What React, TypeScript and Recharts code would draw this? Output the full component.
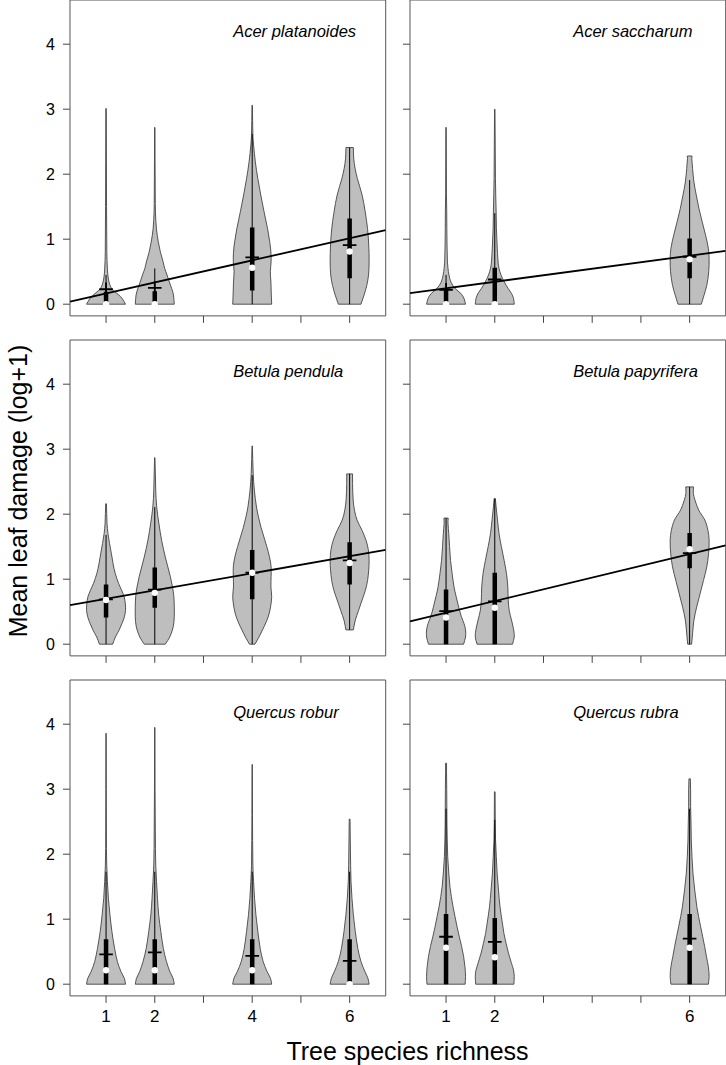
import { ComposedChart, Scatter, XAxis, YAxis, ReferenceArea } from 'recharts'

const FONT = '"Liberation Sans", Arial, sans-serif'

// richness levels present in each species' panel
const richness4 = [1, 2, 4, 6]
const richness3 = [1, 2, 6]
const yTicks = [0, 1, 2, 3, 4]

// violin outlines: [leaf damage, relative width]
const acerPlat1 = [[0, 1], [0.09, 0.82], [0.14, 0.66], [0.19, 0.46], [0.26, 0.25], [0.39, 0.12], [0.54, 0.07], [0.8, 0.04], [1.5, 0.025], [2.2, 0.018], [3.01, 0.012]]
const acerPlat2 = [[0, 1], [0.14, 0.96], [0.24, 0.87], [0.34, 0.75], [0.45, 0.63], [0.55, 0.51], [0.65, 0.43], [0.8, 0.29], [0.96, 0.18], [1.16, 0.085], [1.42, 0.035], [1.68, 0.025], [2.2, 0.015], [2.72, 0.01]]
const acerPlat4 = [[0, 1], [0.14, 0.98], [0.34, 0.96], [0.5, 0.93], [0.65, 0.97], [0.8, 0.96], [0.96, 0.9], [1.16, 0.79], [1.42, 0.61], [1.68, 0.44], [1.93, 0.29], [2.19, 0.16], [2.45, 0.07], [2.6, 0.035], [3.06, 0.012]]
const acerPlat6 = [[0, 0.58], [0.14, 0.74], [0.29, 0.88], [0.45, 0.97], [0.65, 1], [0.91, 0.98], [1.16, 0.92], [1.42, 0.8], [1.68, 0.64], [1.93, 0.4], [2.09, 0.28], [2.24, 0.21], [2.41, 0.19]]

const acerSac1 = [[0, 1], [0.09, 0.92], [0.165, 0.76], [0.24, 0.47], [0.34, 0.25], [0.45, 0.15], [0.55, 0.1], [0.65, 0.07], [0.91, 0.05], [1.16, 0.04], [1.42, 0.035], [1.68, 0.02], [2.72, 0.01]]
const acerSac2 = [[0, 1], [0.09, 0.96], [0.165, 0.86], [0.24, 0.69], [0.34, 0.49], [0.45, 0.32], [0.55, 0.22], [0.65, 0.17], [0.91, 0.12], [1.16, 0.085], [1.42, 0.07], [1.68, 0.05], [1.93, 0.035], [3.0, 0.01]]
const acerSac6 = [[0, 0.6], [0.14, 0.74], [0.29, 0.88], [0.5, 0.98], [0.7, 1], [0.86, 0.96], [1.06, 0.82], [1.26, 0.65], [1.47, 0.48], [1.68, 0.34], [1.88, 0.22], [2.09, 0.15], [2.24, 0.11], [2.28, 0.12]]

const betPen1 = [[0, 0.34], [0.11, 0.48], [0.21, 0.66], [0.32, 0.82], [0.42, 0.94], [0.52, 1], [0.62, 0.99], [0.73, 0.93], [0.83, 0.8], [0.93, 0.65], [1.09, 0.47], [1.24, 0.36], [1.4, 0.27], [1.55, 0.18], [1.7, 0.1], [1.86, 0.05], [2.16, 0.02]]
const betPen2 = [[0, 0.54], [0.11, 0.77], [0.27, 0.95], [0.42, 1], [0.57, 1], [0.73, 0.98], [0.88, 0.91], [1.04, 0.8], [1.19, 0.67], [1.34, 0.54], [1.6, 0.35], [1.86, 0.21], [2.11, 0.1], [2.37, 0.05], [2.87, 0.01]]
const betPen4 = [[0, 0.14], [0.11, 0.35], [0.27, 0.61], [0.42, 0.82], [0.57, 0.94], [0.73, 1], [0.88, 0.96], [1.04, 0.97], [1.19, 0.97], [1.34, 0.89], [1.5, 0.75], [1.65, 0.6], [1.8, 0.45], [1.96, 0.32], [2.11, 0.22], [2.37, 0.11], [2.63, 0.05], [3.05, 0.01]]
const betPen6 = [[0.22, 0.19], [0.37, 0.29], [0.52, 0.46], [0.68, 0.64], [0.83, 0.81], [0.98, 0.92], [1.14, 0.98], [1.29, 1], [1.45, 0.96], [1.6, 0.84], [1.75, 0.64], [1.91, 0.38], [2.06, 0.25], [2.22, 0.18], [2.47, 0.15], [2.62, 0.15]]

const betPap1 = [[0, 0.9], [0.11, 1], [0.22, 1], [0.32, 0.92], [0.42, 0.79], [0.57, 0.65], [0.73, 0.52], [0.88, 0.41], [1.09, 0.31], [1.29, 0.23], [1.5, 0.18], [1.7, 0.14], [1.86, 0.1], [1.94, 0.11]]
const betPap2 = [[0, 0.91], [0.11, 1], [0.22, 0.97], [0.37, 0.86], [0.52, 0.74], [0.68, 0.69], [0.88, 0.67], [1.09, 0.6], [1.29, 0.48], [1.5, 0.34], [1.7, 0.22], [1.91, 0.14], [2.11, 0.07], [2.24, 0.03]]
const betPap6 = [[0, 0.1], [0.16, 0.15], [0.37, 0.22], [0.57, 0.36], [0.78, 0.54], [0.98, 0.71], [1.19, 0.88], [1.39, 0.97], [1.6, 1], [1.75, 0.94], [1.91, 0.78], [2.06, 0.47], [2.22, 0.27], [2.32, 0.19], [2.42, 0.2]]

const querRob1 = [[0, 1], [0.09, 0.94], [0.19, 0.77], [0.35, 0.58], [0.55, 0.44], [0.81, 0.3], [1.07, 0.2], [1.32, 0.12], [1.58, 0.07], [1.83, 0.035], [2.09, 0.02], [3.0, 0.012], [3.86, 0.008]]
const querRob2 = [[0, 1], [0.09, 0.94], [0.19, 0.78], [0.35, 0.6], [0.55, 0.44], [0.81, 0.31], [1.07, 0.2], [1.32, 0.14], [1.58, 0.09], [1.83, 0.05], [2.09, 0.035], [3.0, 0.015], [3.95, 0.008]]
const querRob4 = [[0, 1], [0.09, 0.94], [0.19, 0.77], [0.35, 0.56], [0.55, 0.41], [0.81, 0.29], [1.07, 0.19], [1.32, 0.12], [1.58, 0.07], [1.83, 0.035], [2.6, 0.015], [3.38, 0.008]]
const querRob6 = [[0, 1], [0.09, 0.94], [0.19, 0.79], [0.35, 0.58], [0.55, 0.42], [0.81, 0.29], [1.07, 0.19], [1.32, 0.12], [1.58, 0.07], [1.83, 0.05], [2.54, 0.02]]

const querRub1 = [[0, 0.98], [0.12, 1], [0.27, 0.97], [0.43, 0.9], [0.58, 0.8], [0.73, 0.68], [0.89, 0.56], [1.04, 0.46], [1.19, 0.36], [1.35, 0.27], [1.5, 0.2], [1.71, 0.14], [1.96, 0.085], [2.22, 0.06], [2.48, 0.045], [2.99, 0.035], [3.25, 0.025], [3.4, 0.025]]
const querRub2 = [[0, 0.98], [0.12, 1], [0.22, 0.96], [0.32, 0.86], [0.48, 0.7], [0.63, 0.58], [0.78, 0.47], [0.94, 0.39], [1.19, 0.27], [1.45, 0.19], [1.71, 0.12], [1.96, 0.08], [2.22, 0.04], [2.48, 0.025], [2.96, 0.017]]
const querRub6 = [[0, 0.96], [0.12, 1], [0.27, 0.96], [0.43, 0.86], [0.58, 0.77], [0.73, 0.67], [0.89, 0.56], [1.04, 0.46], [1.19, 0.37], [1.45, 0.26], [1.71, 0.17], [1.96, 0.12], [2.22, 0.085], [2.48, 0.07], [2.73, 0.05], [2.99, 0.05], [3.16, 0.035]]

// per group: [lower whisker, q1, median, q3, upper whisker, mean]
const acerPlatStats = [[0, 0, 0, 0.19, 0.45, 0.23], [0, 0, 0, 0.2, 0.55, 0.25], [0, 0.21, 0.56, 1.18, 2.62, 0.72], [0, 0.4, 0.81, 1.32, 2.41, 0.91]]
const acerSacStats = [[0, 0, 0, 0.22, 0.45, 0.22], [0, 0, 0, 0.56, 1.4, 0.38], [0, 0.4, 0.69, 1.01, 1.91, 0.73]]
const betPenStats = [[0, 0.41, 0.68, 0.92, 1.68, 0.69], [0, 0.56, 0.79, 1.18, 2.11, 0.84], [0, 0.69, 1.1, 1.45, 2.6, 1.1], [0.22, 0.92, 1.25, 1.57, 2.62, 1.29]]
const betPapStats = [[0, 0, 0.41, 0.84, 1.94, 0.51], [0, 0, 0.56, 1.1, 2.24, 0.66], [0, 1.17, 1.46, 1.71, 2.42, 1.4]]
const querRobStats = [[0, 0, 0.215, 0.69, 1.73, 0.46], [0, 0, 0.215, 0.69, 1.73, 0.49], [0, 0, 0.215, 0.69, 1.73, 0.435], [0, 0, 0, 0.69, 1.73, 0.36]]
const querRubStats = [[0, 0, 0.56, 1.08, 2.7, 0.73], [0, 0, 0.415, 1.02, 2.53, 0.65], [0, 0, 0.56, 1.08, 2.7, 0.7]]

// fitted line height at the left and right plot edges
const acerPlatFit = [0.04, 1.14]
const acerSacFit = [0.17, 0.82]
const betPenFit = [0.6, 1.45]
const betPapFit = [0.35, 1.52]

const X_DOMAIN = [0.26, 6.74]
const Y_DOMAIN = [-0.18, 4.68]
const HALF = 0.4

const panels = [
  { name: 'Acer platanoides', groups: richness4, violins: [acerPlat1, acerPlat2, acerPlat4, acerPlat6], stats: acerPlatStats, fit: acerPlatFit },
  { name: 'Acer saccharum', groups: richness3, violins: [acerSac1, acerSac2, acerSac6], stats: acerSacStats, fit: acerSacFit },
  { name: 'Betula pendula', groups: richness4, violins: [betPen1, betPen2, betPen4, betPen6], stats: betPenStats, fit: betPenFit },
  { name: 'Betula papyrifera', groups: richness3, violins: [betPap1, betPap2, betPap6], stats: betPapStats, fit: betPapFit },
  { name: 'Quercus robur', groups: richness4, violins: [querRob1, querRob2, querRob4, querRob6], stats: querRobStats, fit: null },
  { name: 'Quercus rubra', groups: richness3, violins: [querRub1, querRub2, querRub6], stats: querRubStats, fit: null },
]

const PLOT_LEFT = [69.7, 409.7]
const PLOT_TOP = [-0.2, 339.8, 680.1]
const PLOT_W = 315.7
const PLOT_H = 315.9

const outline = (cx: number, prof: number[][]) => [
  ...prof.map(([y, w]) => ({ x: cx + HALF * w, y })),
  ...[...prof].reverse().map(([y, w]) => ({ x: cx - HALF * w, y })),
]

// cubic through points, x treated as a smooth function of y
const smoothSide = (pts: { x: number; y: number }[]) => {
  const n = pts.length
  const m = pts.map((p, i) => {
    const a = pts[Math.max(i - 1, 0)]
    const b = pts[Math.min(i + 1, n - 1)]
    return b.y === a.y ? 0 : (b.x - a.x) / (b.y - a.y)
  })
  let d = ''
  for (let i = 0; i < n - 1; i++) {
    const p = pts[i]
    const q = pts[i + 1]
    const h = q.y - p.y
    d += ` C${p.x + (m[i] * h) / 3},${p.y + h / 3} ${q.x - (m[i + 1] * h) / 3},${q.y - h / 3} ${q.x},${q.y}`
  }
  return d
}

const violinPath = (props: any) => {
  const pts = props.points || []
  if (pts.length < 4) return <g />
  const half = pts.length / 2
  const right = pts.slice(0, half)
  const left = pts.slice(half)
  const d = `M${right[0].x},${right[0].y}` + smoothSide(right) + ` L${left[0].x},${left[0].y}` + smoothSide(left) + ' Z'
  return <path d={d} fill="#bebebe" stroke="#444" strokeWidth={0.9} />
}

const noDot = () => <g />

const plusMark = (props: any) => {
  const { cx, cy } = props
  return <path d={`M${cx - 6.8},${cy}H${cx + 6.8}M${cx},${cy - 6.8}V${cy + 6.8}`} stroke="#000" strokeWidth={1.8} fill="none" />
}

const whiteDot = (props: any) => <circle cx={props.cx} cy={props.cy} r={3.2} fill="#fff" />

function Panel({ idx }: { idx: number }) {
  const p = panels[idx]
  const col = idx % 2
  const row = Math.floor(idx / 2)
  const yW = col === 0 ? 60 : 12
  const xH = row === 2 ? 40 : 12
  const top = 4
  const labelled = row === 2 ? p.groups : []

  return (
    <div style={{ position: 'absolute', left: PLOT_LEFT[col] - yW, top: PLOT_TOP[row] - top }}>
      <ComposedChart width={yW + PLOT_W + 4} height={top + PLOT_H + xH} margin={{ top, right: 4, bottom: 0, left: 0 }}>
        <XAxis
          type="number"
          dataKey="x"
          domain={X_DOMAIN}
          allowDataOverflow
          ticks={[1, 2, 3, 4, 5, 6]}
          interval={0}
          height={xH}
          axisLine={false}
          tickSize={7}
          tickMargin={7}
          tickLine={{ stroke: '#444' }}
          tick={{ fill: '#000', fontSize: 17, fontFamily: FONT }}
          tickFormatter={(v) => (labelled.includes(v) ? String(v) : '')}
        />
        <YAxis
          type="number"
          dataKey="y"
          domain={Y_DOMAIN}
          allowDataOverflow
          ticks={yTicks}
          interval={0}
          width={yW}
          axisLine={false}
          tickSize={7}
          tickMargin={8}
          tickLine={{ stroke: '#444' }}
          tick={{ fill: '#000', fontSize: 16, fontFamily: FONT }}
          tickFormatter={(v) => (col === 0 ? String(v) : '')}
        />
        <ReferenceArea x1={X_DOMAIN[0]} x2={X_DOMAIN[1]} y1={Y_DOMAIN[0]} y2={Y_DOMAIN[1]} fill="none" stroke="#555" strokeWidth={1} ifOverflow="visible" />
        {p.violins.map((v, i) => (
          <Scatter key={`v${i}`} data={outline(p.groups[i], v)} line={violinPath} lineType="joint" shape={noDot} isAnimationActive={false} />
        ))}
        {p.fit && (
          <Scatter
            data={[{ x: X_DOMAIN[0], y: p.fit[0] }, { x: X_DOMAIN[1], y: p.fit[1] }]}
            line={{ stroke: '#000', strokeWidth: 1.8 }}
            lineType="joint"
            shape={noDot}
            isAnimationActive={false}
          />
        )}
        {p.stats.map((s, i) => (
          <Scatter
            key={`w${i}`}
            data={[{ x: p.groups[i], y: s[0] }, { x: p.groups[i], y: s[4] }]}
            line={{ stroke: '#000', strokeWidth: 1 }}
            lineType="joint"
            shape={noDot}
            isAnimationActive={false}
          />
        ))}
        {p.stats.map((s, i) => (
          <Scatter
            key={`b${i}`}
            data={[{ x: p.groups[i], y: s[1] }, { x: p.groups[i], y: s[3] }]}
            line={{ stroke: '#000', strokeWidth: 4.5 }}
            lineType="joint"
            shape={noDot}
            isAnimationActive={false}
          />
        ))}
        <Scatter data={p.stats.map((s, i) => ({ x: p.groups[i], y: s[5] }))} shape={plusMark} isAnimationActive={false} />
        <Scatter data={p.stats.map((s, i) => ({ x: p.groups[i], y: s[2] }))} shape={whiteDot} isAnimationActive={false} />
      </ComposedChart>
    </div>
  )
}

export default function App() {
  return (
    <div style={{ position: 'absolute', left: 0, top: 0, width: 726, height: 1065, background: '#fff', overflow: 'hidden' }}>
      {panels.map((_, i) => (
        <Panel key={i} idx={i} />
      ))}
      <svg width={726} height={1065} style={{ position: 'absolute', left: 0, top: 0, pointerEvents: 'none' }}>
        {panels.map((p, i) => (
          <text
            key={p.name}
            x={PLOT_LEFT[i % 2] + 163.5}
            y={PLOT_TOP[Math.floor(i / 2)] + 37.5}
            fontFamily={FONT}
            fontStyle="italic"
            fontSize={16.5}
            fill="#000"
          >
            {p.name}
          </text>
        ))}
        <text x={407.5} y={1059.5} textAnchor="middle" fontFamily={FONT} fontSize={25} fill="#000">
          Tree species richness
        </text>
        <text transform="rotate(-90)" x={-491} y={27} textAnchor="middle" fontFamily={FONT} fontSize={25} fill="#000">
          Mean leaf damage (log+1)
        </text>
      </svg>
    </div>
  )
}
